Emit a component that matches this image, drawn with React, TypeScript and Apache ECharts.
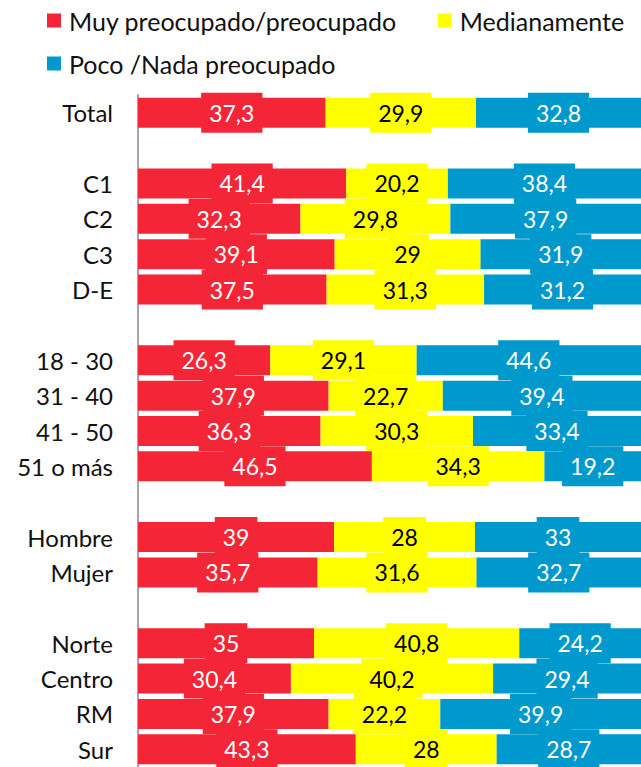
import React, { useEffect, useRef } from "react";
import * as echarts from "echarts";

const categories = [
  "Total", " ", "C1", "C2", "C3", "D-E", "  ",
  "18 - 30", "31 - 40", "41 - 50", "51 o más", "   ",
  "Hombre", "Mujer", "    ",
  "Norte", "Centro", "RM", "Sur",
];
const seriesNames = ["Muy preocupado/preocupado", "Medianamente", "Poco /Nada preocupado"];
const muy = [37.3, "-", 41.4, 32.3, 39.1, 37.5, "-", 26.3, 37.9, 36.3, 46.5, "-", 39, 35.7, "-", 35, 30.4, 37.9, 43.3];
const medianamente = [29.9, "-", 20.2, 29.8, 29, 31.3, "-", 29.1, 22.7, 30.3, 34.3, "-", 28, 31.6, "-", 40.8, 40.2, 22.2, 28];
const poco = [32.8, "-", 38.4, 37.9, 31.9, 31.2, "-", 44.6, 39.4, 33.4, 19.2, "-", 33, 32.7, "-", 24.2, 29.4, 39.9, 28.7];
const colors = ["#F32536", "#FFFF00", "#0099CD"];
const labelColors = ["#FFFFFF", "#000000", "#FFFFFF"];

const FONT = "Lato";

export default function App() {
  const ref = useRef<HTMLDivElement>(null);
  useEffect(() => {
    const chart = echarts.init(ref.current!, null, { renderer: "svg" });
    const values = [muy, medianamente, poco];
    const legendText = { fontFamily: FONT, fontSize: 25, color: "#111", padding: [0, 0, 0, 3] };
    chart.setOption({
      animation: false,
      textStyle: { fontFamily: FONT },
      legend: [
        {
          data: [seriesNames[0], seriesNames[1]],
          left: 42,
          top: 3,
          itemWidth: 14,
          itemHeight: 14,
          itemGap: 41,
          icon: "rect",
          textStyle: legendText,
        },
        {
          data: [seriesNames[2]],
          left: 42,
          top: 46,
          itemWidth: 14,
          itemHeight: 14,
          icon: "rect",
          textStyle: legendText,
        },
      ],
      grid: { left: 138, right: 0, top: 95, height: 674.5, containLabel: false },
      xAxis: {
        type: "value",
        min: 0,
        max: 100,
        show: false,
      },
      yAxis: {
        type: "category",
        data: categories,
        inverse: true,
        axisTick: { show: false },
        axisLine: { show: true, lineStyle: { color: "#A6A6A6", width: 2 } },
        axisLabel: { fontFamily: FONT, fontSize: 24, color: "#111", margin: 25 },
      },
      series: values.map((v, i) => ({
        name: seriesNames[i],
        type: "bar",
        stack: "total",
        data: v,
        barWidth: 30,
        itemStyle: { color: colors[i] },
        label: {
          show: true,
          position: "inside",
          fontFamily: FONT,
          fontSize: 23,
          lineHeight: 24,
          color: labelColors[i],
          backgroundColor: colors[i],
          padding: [8, 8],
          formatter: (p: any) => String(p.value).replace(".", ","),
        },
      })),
    });
    return () => chart.dispose();
  }, []);
  return <div ref={ref} style={{ width: 641, height: 767, position: "absolute", left: 0, top: 0 }} />;
}
